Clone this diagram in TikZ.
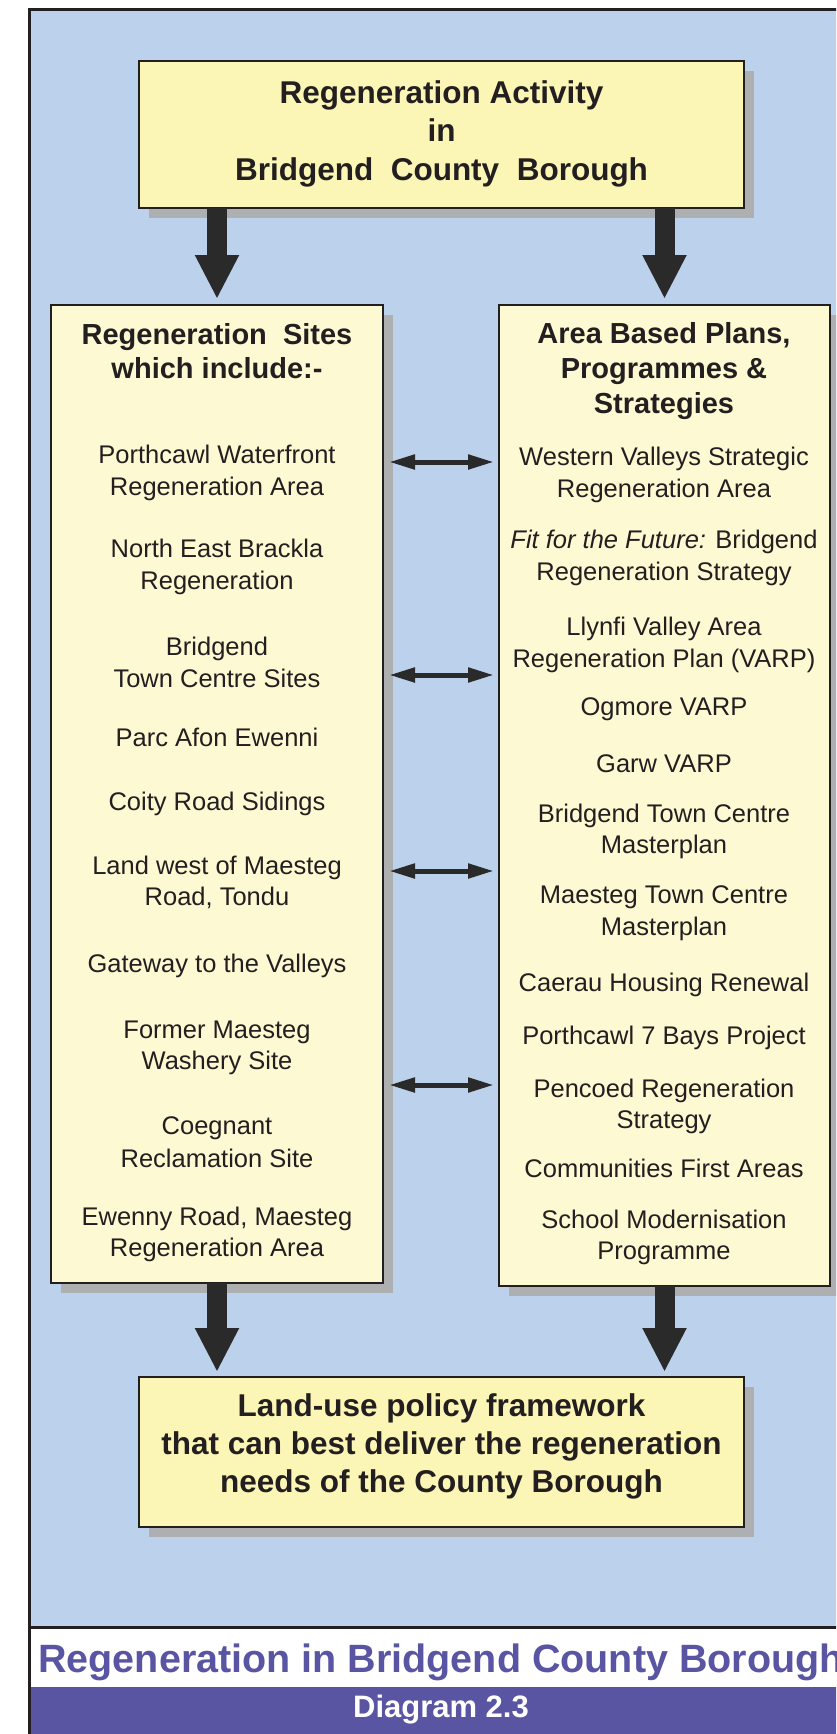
\documentclass[tikz,border=0pt]{standalone}
\usepackage{fontspec}
\setmainfont{Liberation Sans}
\usetikzlibrary{arrows.meta}
\definecolor{bgblue}{HTML}{BCD1EC}
\definecolor{boxyel}{HTML}{FBF5B6}
\definecolor{boxlight}{HTML}{FDF9D2}
\definecolor{shadowc}{HTML}{AEAFB1}
\definecolor{linec}{HTML}{231F20}
\definecolor{arrowc}{HTML}{2A2A2A}
\definecolor{purp}{HTML}{5A55A3}
\begin{document}
\begin{tikzpicture}[x=1pt,y=-1pt,
  box/.style={draw=linec, line width=2.5pt, fill=#1, inner sep=0pt, outer sep=0pt, anchor=north west,
    preaction={fill=shadowc, transform canvas={xshift=10pt,yshift=-10pt}}},
  body/.style={anchor=base, inner sep=0pt, text=linec, font=\fontsize{25.5}{30}\selectfont},
  head/.style={anchor=base, inner sep=0pt, text=linec, font=\bfseries\fontsize{29}{34}\selectfont},
  big/.style={anchor=base, inner sep=0pt, text=linec, font=\bfseries\fontsize{31.5}{38}\selectfont},
  bigarrow/.style={draw=arrowc, line width=20pt, -{Triangle[length=44pt,width=41pt]}},
  duoarrow/.style={draw=arrowc, line width=5pt, {Triangle[length=26pt,width=14pt]}-{Triangle[length=26pt,width=14pt]}}
]
\useasboundingbox (0,0) rectangle (836,1734);
\clip (0,0) rectangle (836,1734);
% background and frame
\fill[bgblue] (29,10) rectangle (860,1627);
\fill[purp] (29,1687) rectangle (860,1734);
\draw[linec, line width=3pt] (29,1734) -- (29,10) -- (860,10);
\draw[linec, line width=3pt] (29,1627) -- (860,1627);
% boxes
\node[box=boxyel, minimum width=605pt, minimum height=147pt] (top) at (139,61) {};
\node[box=boxlight, minimum width=332pt, minimum height=978pt] (left) at (51,305) {};
\node[box=boxlight, minimum width=331pt, minimum height=981pt] (right) at (499,305) {};
\node[box=boxyel, minimum width=605pt, minimum height=150pt] (bottom) at (139,1377) {};
% connectors
\draw[bigarrow, shorten >=6pt] (top.south -| left.north) -- (left.north);
\draw[bigarrow, shorten >=6pt] (top.south -| right.north) -- (right.north);
\draw[bigarrow, shorten >=5pt] (left.south) -- (left.south |- bottom.north);
\draw[bigarrow, shorten >=5pt] (right.south) -- (right.south |- bottom.north);
\coordinate (a1) at (441,462);
\coordinate (a2) at (441,675);
\coordinate (a3) at (441,871);
\coordinate (a4) at (441,1085);
\draw[duoarrow, shorten <=6pt, shorten >=5pt] (left.east |- a1) -- (right.west |- a1);
\draw[duoarrow, shorten <=6pt, shorten >=5pt] (left.east |- a2) -- (right.west |- a2);
\draw[duoarrow, shorten <=6pt, shorten >=5pt] (left.east |- a3) -- (right.west |- a3);
\draw[duoarrow, shorten <=6pt, shorten >=5pt] (left.east |- a4) -- (right.west |- a4);
% top box text
\node[big] (t1) at (441.5,104) {Regeneration Activity};
\node[big] (t2) at (441.5,142) {in};
\node[big] (t3) at (441.5,180) {Bridgend~ County~ Borough};
% left box text
\node[head] (lh1) at (217,344) {Regeneration~ Sites};
\node[head] (lh2) at (217,378) {which include:-};
\node[body] (l1) at (217,463) {Porthcawl Waterfront};
\node[body] (l2) at (217,495) {Regeneration Area};
\node[body] (l3) at (217,557) {North East Brackla};
\node[body] (l4) at (217,589) {Regeneration};
\node[body] (l5) at (217,655) {Bridgend};
\node[body] (l6) at (217,687) {Town Centre Sites};
\node[body] (l7) at (217,746) {Parc Afon Ewenni};
\node[body] (l8) at (217,810) {Coity Road Sidings};
\node[body] (l9) at (217,874) {Land west of Maesteg};
\node[body] (l10) at (217,905) {Road, Tondu};
\node[body] (l11) at (217,972) {Gateway to the Valleys};
\node[body] (l12) at (217,1038) {Former Maesteg};
\node[body] (l13) at (217,1069) {Washery Site};
\node[body] (l14) at (217,1134) {Coegnant};
\node[body] (l15) at (217,1167) {Reclamation Site};
\node[body] (l16) at (217,1225) {Ewenny Road, Maesteg};
\node[body] (l17) at (217,1256) {Regeneration Area};
% right box text
\node[head] (rh1) at (664,343) {Area Based Plans,};
\node[head] (rh2) at (664,378) {Programmes \&};
\node[head] (rh3) at (664,413) {Strategies};
\node[body] (r1) at (664,465) {Western Valleys Strategic};
\node[body] (r2) at (664,497) {Regeneration Area};
\node[body] (r3) at (664,548) {\textit{Fit for the Future:} Bridgend};
\node[body] (r4) at (664,580) {Regeneration Strategy};
\node[body] (r5) at (664,635) {Llynfi Valley Area};
\node[body] (r6) at (664,667) {Regeneration Plan (VARP)};
\node[body] (r7) at (664,715) {Ogmore VARP};
\node[body] (r8) at (664,772) {Garw VARP};
\node[body] (r9) at (664,822) {Bridgend Town Centre};
\node[body] (r10) at (664,853) {Masterplan};
\node[body] (r11) at (664,903) {Maesteg Town Centre};
\node[body] (r12) at (664,935) {Masterplan};
\node[body] (r13) at (664,991) {Caerau Housing Renewal};
\node[body] (r14) at (664,1044) {Porthcawl 7 Bays Project};
\node[body] (r15) at (664,1097) {Pencoed Regeneration};
\node[body] (r16) at (664,1128) {Strategy};
\node[body] (r17) at (664,1177) {Communities First Areas};
\node[body] (r18) at (664,1228) {School Modernisation};
\node[body] (r19) at (664,1259) {Programme};
% bottom box text
\node[big] (b1) at (441.5,1416) {Land-use policy framework};
\node[big] (b2) at (441.5,1454) {that can best deliver the regeneration};
\node[big] (b3) at (441.5,1492) {needs of the County Borough};
% caption
\node[anchor=base, inner sep=0pt, text=purp, font=\bfseries\fontsize{39.5}{44}\selectfont] (cap) at (441,1672) {Regeneration in Bridgend County Borough};
\node[anchor=base, inner sep=0pt, text=white, font=\bfseries\fontsize{31}{36}\selectfont] (diag) at (441,1717) {Diagram 2.3};
\end{tikzpicture}
\end{document}
